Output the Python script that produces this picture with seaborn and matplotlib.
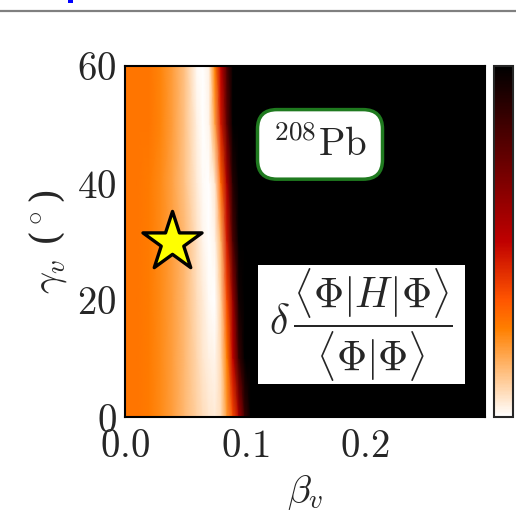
import numpy as np
import matplotlib
matplotlib.use("Agg")
import matplotlib.pyplot as plt
from matplotlib.patches import Rectangle
from matplotlib.lines import Line2D
import seaborn as sns

sns.set_style("ticks")
plt.rcParams["mathtext.fontset"] = "cm"
plt.rcParams["font.family"] = ["DejaVu Serif"]

# ---- data ----
beta_nodes = [0.0, 0.01, 0.02, 0.03, 0.04, 0.05, 0.06, 0.065, 0.07, 0.075,
              0.08, 0.085, 0.09, 0.095, 0.10, 0.105, 0.11, 0.12, 0.30]
gamma_nodes = [0, 10, 20, 30, 40, 50, 60]
# normalised |delta <H>| (0 = white, 1 = black), one row per gamma node
row_g0  = [0.27, 0.27, 0.26, 0.23, 0.19, 0.14, 0.09, 0.07, 0.05, 0.04, 0.07, 0.20, 0.35, 0.55, 0.85, 1.0, 1.0, 1.0, 1.0]
row_g10 = [0.27, 0.27, 0.26, 0.23, 0.19, 0.14, 0.08, 0.05, 0.03, 0.02, 0.08, 0.25, 0.50, 0.85, 1.0, 1.0, 1.0, 1.0, 1.0]
row_g20 = [0.27, 0.27, 0.26, 0.23, 0.19, 0.14, 0.07, 0.04, 0.01, 0.0, 0.10, 0.35, 0.60, 0.95, 1.0, 1.0, 1.0, 1.0, 1.0]
row_g30 = [0.27, 0.27, 0.26, 0.23, 0.19, 0.14, 0.06, 0.02, 0.0, 0.02, 0.15, 0.45, 0.80, 1.0, 1.0, 1.0, 1.0, 1.0, 1.0]
row_g40 = [0.27, 0.27, 0.26, 0.23, 0.18, 0.12, 0.04, 0.01, 0.0, 0.05, 0.30, 0.55, 0.90, 1.0, 1.0, 1.0, 1.0, 1.0, 1.0]
row_g50 = [0.27, 0.27, 0.27, 0.24, 0.19, 0.12, 0.03, 0.0, 0.02, 0.18, 0.45, 0.75, 1.0, 1.0, 1.0, 1.0, 1.0, 1.0, 1.0]
row_g60 = [0.27, 0.27, 0.27, 0.24, 0.19, 0.12, 0.01, 0.0, 0.03, 0.25, 0.50, 0.80, 1.0, 1.0, 1.0, 1.0, 1.0, 1.0, 1.0]

star_beta = [0.039]
star_gamma = [30.0]

xtick_vals = [0.0, 0.1, 0.2]
xtick_labels = ["0.0", "0.1", "0.2"]
ytick_vals = [0, 20, 40, 60]
ytick_labels = ["0", "20", "40", "60"]

nucleus_label = r"$^{208}\mathrm{Pb}$"
quantity_label = r"$\delta\,\dfrac{\langle\Phi|H|\Phi\rangle}{\langle\Phi|\Phi\rangle}$"

# ---- figure ----
W, H = 516, 512
fig = plt.figure(figsize=(W / 100, H / 100), dpi=100)
ax = fig.add_axes([125 / W, 1 - 417 / H, 360 / W, 351 / H])
cax = fig.add_axes([494 / W, 1 - 417 / H, 19 / W, 351 / H])

Z = np.array([row_g0, row_g10, row_g20, row_g30, row_g40, row_g50, row_g60])
B, G = np.meshgrid(beta_nodes, gamma_nodes)
mesh = ax.pcolormesh(B, G, Z, shading="gouraud", cmap="gist_heat_r", vmin=0, vmax=1)

sns.scatterplot(x=star_beta, y=star_gamma, marker="*", s=2000, color="#ffff00",
                edgecolor="black", linewidth=2.4, ax=ax, zorder=5, legend=False)

ax.set_xlim(0, 0.3)
ax.set_ylim(0, 60)
ax.set_xticks(xtick_vals, ["$%s$" % t for t in xtick_labels])
ax.set_yticks(ytick_vals, ["$%s$" % t for t in ytick_labels])
ax.tick_params(direction="in", length=7, width=1.2, labelsize=28, pad=6, color="black")
ax.tick_params(axis="x", pad=8)
for s in ax.spines.values():
    s.set_linewidth(1.5)
    s.set_color("black")

ax.set_xlabel(r"$\beta_v$", fontsize=28, labelpad=6)
ax.set_ylabel(r"$\gamma_v$ ($^\circ$)", fontsize=28, labelpad=6)

ax.text(0.1625, 46.6, nucleus_label, fontsize=28, ha="center", va="center", zorder=6,
        bbox=dict(boxstyle="round,pad=0.4,rounding_size=0.5", fc="white", ec="#1f7a1f", lw=2.5))

ax.add_patch(Rectangle((0.111, 5.7), 0.172, 20.2, facecolor="white", edgecolor="none", zorder=6))
ax.text(0.197, 15.6, quantity_label, fontsize=30, ha="center", va="center", zorder=7)

cb = fig.colorbar(mesh, cax=cax, ticks=[])
cb.outline.set_linewidth(1.5)

# page artefacts at the top of the crop
fig.add_artist(Line2D([0, 1], [1 - 11 / H, 1 - 11 / H], color="#808080", lw=1.6))
fig.add_artist(Rectangle((68 / W, 1 - 3 / H), 5 / W, 3 / H, color="blue", lw=0))

fig.savefig("out.png", dpi=100)
